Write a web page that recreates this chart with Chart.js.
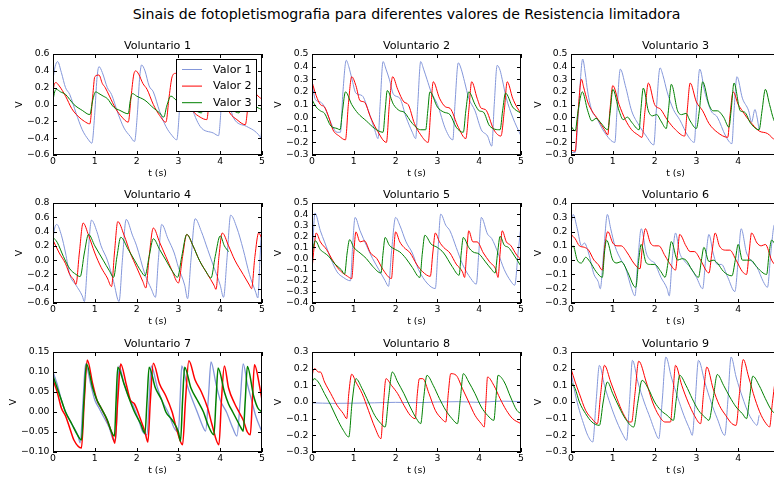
<!DOCTYPE html>
<html>
<head>
<meta charset="utf-8">
<script src="https://cdn.jsdelivr.net/npm/chart.js@4.4.0/dist/chart.umd.min.js"></script>
<style>
  html, body { margin: 0; padding: 0; background: #fff; overflow: hidden; width: 774px; height: 479px; }
  #suptitle { position: absolute; left: 0; top: 6px; width: 813px; text-align: center;
              font: 14.1px "DejaVu Sans"; white-space: nowrap; color: #000; }
  .box { position: absolute; }
</style>
</head>
<body>
<div id="suptitle">Sinais de fotopletismografia para diferentes valores de Resistencia limitadora</div>
<script>
// [t (s), V] pares
const vol1_valor1 = [[0,0.3],[0.05,0.45],[0.11,0.51],[0.2,0.38],[0.3,0.2],[0.4,0.12],[0.55,-0.1],[0.7,-0.3],[0.85,-0.42],[0.93,-0.46],[1.0,-0.1],[1.05,0.3],[1.1,0.45],[1.18,0.38],[1.3,0.2],[1.4,0.12],[1.55,-0.1],[1.7,-0.28],[1.85,-0.38],[1.95,-0.44],[2.02,-0.1],[2.07,0.3],[2.12,0.47],[2.2,0.4],[2.3,0.22],[2.4,0.15],[2.55,-0.08],[2.7,-0.26],[2.85,-0.37],[2.96,-0.42],[3.02,-0.1],[3.06,0.3],[3.1,0.45],[3.2,0.2],[3.3,0.0],[3.52,-0.26],[3.84,-0.34],[3.96,-0.37],[4.02,-0.05],[4.06,0.3],[4.1,0.45],[4.2,0.1],[4.31,-0.15],[4.63,-0.26],[4.95,-0.38],[4.97,-0.4],[5.0,-0.25]];
const vol1_valor2 = [[0,0.15],[0.03,0.24],[0.07,0.26],[0.15,0.22],[0.3,0.1],[0.45,-0.05],[0.6,-0.14],[0.75,-0.2],[0.88,-0.23],[0.95,0.1],[1.0,0.33],[1.1,0.35],[1.18,0.25],[1.25,0.2],[1.35,0.1],[1.5,-0.05],[1.65,-0.15],[1.8,-0.21],[1.87,0.1],[1.93,0.35],[1.98,0.4],[2.05,0.36],[2.15,0.25],[2.25,0.18],[2.4,0.0],[2.55,-0.13],[2.7,-0.21],[2.78,0.1],[2.85,0.33],[2.93,0.37],[3.05,0.25],[3.2,0.05],[3.35,-0.08],[3.52,-0.15],[3.68,-0.18],[3.75,0.15],[3.82,0.36],[3.95,0.25],[4.1,0.05],[4.23,-0.1],[4.4,-0.18],[4.6,-0.24],[4.68,0.05],[4.75,0.22],[4.87,0.12],[5.0,0.06]];
const vol1_valor3 = [[0,0.05],[0.04,0.15],[0.08,0.18],[0.18,0.15],[0.3,0.12],[0.4,0.06],[0.5,0.0],[0.7,-0.07],[0.88,-0.12],[0.95,0.05],[1.02,0.15],[1.1,0.13],[1.2,0.1],[1.3,0.07],[1.45,-0.03],[1.6,-0.07],[1.8,-0.11],[1.85,0.05],[1.9,0.13],[2.0,0.1],[2.2,0.05],[2.4,-0.04],[2.55,-0.1],[2.65,-0.15],[2.72,-0.02],[2.82,0.1],[2.95,0.05],[3.2,-0.02],[3.4,-0.07],[3.55,-0.1],[3.62,0.02],[3.7,0.12],[3.85,0.06],[4.1,-0.02],[4.3,-0.07],[4.45,-0.1],[4.52,0.02],[4.6,0.1],[4.75,0.03],[4.87,-0.03],[5.0,-0.06]];

const vol2_valor1 = [[0,0.27],[0.08,0.14],[0.2,0.12],[0.3,0.08],[0.4,0.0],[0.5,-0.08],[0.6,-0.12],[0.68,-0.12],[0.74,0.2],[0.82,0.45],[0.88,0.4],[0.95,0.31],[1.05,0.19],[1.2,0.17],[1.35,0.05],[1.5,-0.1],[1.58,-0.17],[1.63,0.1],[1.7,0.44],[1.77,0.38],[1.85,0.3],[1.95,0.18],[2.1,0.15],[2.25,0.0],[2.4,-0.12],[2.48,-0.17],[2.53,0.1],[2.6,0.44],[2.67,0.38],[2.75,0.3],[2.85,0.2],[3.0,0.1],[3.2,-0.1],[3.37,-0.18],[3.42,0.1],[3.5,0.43],[3.57,0.38],[3.65,0.28],[3.75,0.15],[3.9,0.05],[4.05,-0.1],[4.2,-0.15],[4.3,-0.23],[4.36,0.1],[4.43,0.41],[4.5,0.37],[4.55,0.3],[4.65,0.15],[4.8,0.0],[5.0,-0.15]];
const vol2_valor2 = [[0,0.28],[0.1,0.17],[0.2,0.1],[0.3,0.08],[0.4,0.0],[0.5,-0.1],[0.65,-0.15],[0.8,-0.18],[0.87,0.1],[0.95,0.32],[1.05,0.25],[1.15,0.13],[1.25,0.12],[1.4,0.0],[1.55,-0.1],[1.78,-0.2],[1.85,0.1],[1.93,0.32],[2.05,0.22],[2.2,0.12],[2.3,0.1],[2.45,-0.05],[2.6,-0.14],[2.78,-0.2],[2.84,0.05],[2.9,0.28],[3.05,0.15],[3.2,0.08],[3.3,0.07],[3.5,-0.08],[3.68,-0.17],[3.75,0.05],[3.82,0.28],[3.95,0.15],[4.05,0.07],[4.15,0.06],[4.35,-0.1],[4.52,-0.15],[4.6,0.05],[4.67,0.28],[4.8,0.15],[4.9,0.08],[5.0,0.03]];
const vol2_valor3 = [[0,0.14],[0.1,0.08],[0.2,0.05],[0.3,0.03],[0.45,-0.07],[0.6,-0.09],[0.67,-0.1],[0.73,0.05],[0.8,0.2],[0.95,0.1],[1.1,0.03],[1.3,-0.03],[1.5,-0.09],[1.7,-0.12],[1.75,0.05],[1.8,0.21],[1.95,0.1],[2.1,0.05],[2.2,0.04],[2.4,-0.05],[2.6,-0.1],[2.72,-0.1],[2.77,0.05],[2.82,0.2],[3.0,0.08],[3.15,0.04],[3.3,0.02],[3.45,-0.08],[3.62,-0.12],[3.68,0.05],[3.75,0.2],[3.9,0.1],[4.0,0.05],[4.1,0.04],[4.25,-0.07],[4.5,-0.1],[4.56,0.05],[4.63,0.19],[4.8,0.08],[5.0,0.03]];

const vol3_valor1 = [[0,-0.28],[0.1,-0.28],[0.17,0.0],[0.28,0.46],[0.34,0.35],[0.4,0.2],[0.5,0.05],[0.6,0.0],[0.8,-0.12],[1.05,-0.2],[1.1,0.05],[1.18,0.38],[1.3,0.25],[1.45,0.05],[1.6,-0.05],[1.8,-0.15],[1.98,-0.22],[2.04,0.05],[2.13,0.39],[2.2,0.33],[2.3,0.2],[2.45,0.06],[2.6,-0.02],[2.8,-0.15],[2.95,-0.2],[3.0,0.05],[3.08,0.38],[3.2,0.2],[3.35,0.05],[3.5,0.0],[3.7,-0.15],[3.85,-0.21],[3.9,0.05],[3.97,0.32],[4.1,0.15],[4.25,0.05],[4.32,-0.04],[4.4,0.06],[4.45,0.0],[4.5,-0.1]];
const vol3_valor2 = [[0,-0.26],[0.1,-0.27],[0.16,0.0],[0.25,0.3],[0.3,0.24],[0.4,0.12],[0.5,0.05],[0.65,-0.02],[0.8,-0.1],[0.88,-0.14],[0.93,0.05],[1.0,0.25],[1.15,0.1],[1.3,-0.02],[1.45,-0.1],[1.6,-0.14],[1.7,-0.16],[1.77,0.05],[1.85,0.27],[2.0,0.1],[2.15,0.06],[2.3,-0.02],[2.5,-0.1],[2.72,-0.15],[2.78,0.05],[2.85,0.27],[3.0,0.12],[3.15,0.05],[3.3,-0.05],[3.5,-0.12],[3.75,-0.16],[3.8,0.0],[3.88,0.2],[4.0,0.1],[4.1,0.05],[4.2,0.0],[4.35,-0.06],[4.5,-0.11],[4.7,-0.13],[4.9,-0.19],[5.0,-0.21]];
const vol3_valor3 = [[0,-0.07],[0.1,-0.11],[0.17,0.05],[0.27,0.2],[0.4,0.05],[0.5,-0.03],[0.6,-0.01],[0.7,-0.04],[0.88,-0.1],[0.94,0.05],[1.0,0.22],[1.15,0.05],[1.25,-0.02],[1.35,0.0],[1.45,-0.04],[1.63,-0.1],[1.67,0.05],[1.73,0.23],[1.85,0.05],[1.95,0.01],[2.05,0.02],[2.15,-0.03],[2.28,-0.09],[2.33,0.05],[2.4,0.26],[2.55,0.05],[2.65,0.02],[2.75,0.03],[2.85,-0.03],[3.0,-0.09],[3.07,0.05],[3.15,0.28],[3.3,0.1],[3.4,0.05],[3.5,0.05],[3.65,0.0],[3.78,-0.08],[3.83,0.05],[3.9,0.27],[4.05,0.05],[4.15,0.04],[4.3,-0.05],[4.5,-0.1],[4.57,0.05],[4.65,0.22],[4.75,0.1],[4.85,-0.02],[5.0,-0.1]];

const vol4_valor1 = [[0,0.3],[0.04,0.45],[0.09,0.5],[0.2,0.35],[0.3,0.1],[0.4,-0.2],[0.55,-0.35],[0.7,-0.5],[0.75,-0.58],[0.83,0.0],[0.92,0.56],[1.05,0.4],[1.15,0.2],[1.3,0.0],[1.45,-0.3],[1.58,-0.58],[1.66,0.0],[1.75,0.57],[1.9,0.35],[2.0,0.2],[2.2,-0.2],[2.35,-0.4],[2.45,-0.52],[2.52,0.0],[2.6,0.5],[2.75,0.3],[2.9,0.1],[3.0,-0.1],[3.15,-0.35],[3.22,-0.54],[3.3,0.0],[3.4,0.58],[3.55,0.4],[3.7,0.15],[3.85,-0.1],[4.0,-0.35],[4.08,-0.52],[4.16,0.0],[4.25,0.63],[4.4,0.45],[4.55,0.15],[4.7,-0.2],[4.85,-0.45],[4.9,-0.53],[4.95,0.0],[5.0,0.58]];
const vol4_valor2 = [[0,0.28],[0.15,0.1],[0.3,-0.05],[0.4,-0.2],[0.5,-0.28],[0.55,-0.34],[0.63,0.1],[0.72,0.52],[0.85,0.35],[1.0,0.1],[1.15,-0.1],[1.3,-0.25],[1.4,-0.37],[1.47,0.1],[1.55,0.54],[1.7,0.35],[1.85,0.1],[2.0,-0.1],[2.15,-0.3],[2.22,-0.39],[2.3,0.05],[2.4,0.45],[2.55,0.25],[2.7,0.05],[2.85,-0.15],[3.0,-0.32],[3.1,0.05],[3.2,0.36],[3.35,0.2],[3.5,0.0],[3.7,-0.2],[3.85,-0.35],[3.9,-0.41],[3.97,0.05],[4.05,0.38],[4.2,0.2],[4.35,0.0],[4.55,-0.2],[4.7,-0.35],[4.75,-0.4],[4.83,0.05],[4.92,0.38],[5.0,0.3]];
const vol4_valor3 = [[0,0.32],[0.1,0.25],[0.25,0.05],[0.4,-0.12],[0.55,-0.2],[0.65,-0.23],[0.75,0.1],[0.85,0.36],[1.0,0.2],[1.2,0.0],[1.35,-0.15],[1.45,-0.24],[1.53,0.05],[1.62,0.32],[1.8,0.15],[1.95,0.0],[2.1,-0.15],[2.2,-0.22],[2.3,0.05],[2.4,0.3],[2.55,0.15],[2.7,0.0],[2.85,-0.15],[2.98,-0.24],[3.08,0.05],[3.2,0.36],[3.35,0.2],[3.5,0.0],[3.65,-0.15],[3.78,-0.25],[3.88,0.05],[4.0,0.34],[4.1,0.2],[4.2,0.12]];

const vol5_valor1 = [[0,-0.1],[0.03,0.2],[0.07,0.41],[0.2,0.25],[0.3,0.15],[0.45,0.0],[0.6,-0.12],[0.75,-0.17],[0.92,-0.2],[0.97,0.1],[1.03,0.37],[1.15,0.25],[1.3,0.12],[1.45,0.0],[1.6,-0.1],[1.75,-0.2],[1.83,-0.25],[1.9,0.05],[2.0,0.37],[2.1,0.3],[2.25,0.15],[2.4,0.05],[2.55,-0.1],[2.75,-0.22],[2.95,-0.27],[3.01,0.05],[3.08,0.4],[3.2,0.3],[3.3,0.25],[3.45,0.1],[3.6,-0.05],[3.8,-0.18],[3.93,-0.23],[3.99,0.05],[4.05,0.37],[4.2,0.22],[4.3,0.18],[4.45,0.05],[4.6,-0.1],[4.75,-0.2],[4.85,-0.24],[4.93,0.05],[5.0,0.3]];
const vol5_valor2 = [[0,-0.1],[0.05,0.1],[0.1,0.23],[0.2,0.15],[0.35,0.08],[0.5,-0.02],[0.65,-0.1],[0.85,-0.16],[0.95,-0.18],[1.0,0.05],[1.05,0.24],[1.15,0.15],[1.25,0.16],[1.4,0.05],[1.55,0.0],[1.7,-0.1],[1.9,-0.18],[1.95,0.05],[2.0,0.24],[2.1,0.15],[2.2,0.1],[2.35,0.05],[2.5,-0.05],[2.65,-0.12],[2.83,-0.16],[2.89,0.05],[2.95,0.23],[3.05,0.15],[3.15,0.1],[3.3,0.05],[3.45,-0.05],[3.6,-0.12],[3.65,-0.17],[3.7,0.05],[3.75,0.25],[3.85,0.15],[3.95,0.15],[4.1,0.05],[4.25,-0.03],[4.4,-0.1],[4.45,-0.17],[4.5,0.05],[4.55,0.25],[4.65,0.15],[4.75,0.12],[4.9,0.03],[5.0,-0.01]];
const vol5_valor3 = [[0,0.05],[0.04,0.12],[0.08,0.16],[0.2,0.08],[0.3,0.05],[0.4,0.02],[0.55,-0.05],[0.7,-0.1],[0.78,-0.14],[0.84,0.05],[0.9,0.17],[1.0,0.1],[1.15,0.05],[1.3,0.0],[1.45,-0.07],[1.65,-0.13],[1.7,0.05],[1.75,0.19],[1.85,0.12],[2.0,0.08],[2.1,0.06],[2.25,0.0],[2.4,-0.08],[2.58,-0.17],[2.64,0.05],[2.7,0.21],[2.85,0.13],[3.0,0.1],[3.15,0.05],[3.35,-0.07],[3.52,-0.15],[3.57,0.05],[3.62,0.19],[3.75,0.1],[3.85,0.06],[4.0,0.04],[4.15,-0.03],[4.3,-0.1],[4.38,-0.13],[4.44,0.05],[4.5,0.2],[4.6,0.12],[4.7,0.1],[4.8,0.05],[5.0,-0.07]];

const vol6_valor1 = [[0,0.25],[0.05,0.32],[0.15,0.22],[0.25,0.1],[0.32,0.12],[0.42,0.05],[0.55,-0.1],[0.65,-0.15],[0.7,-0.2],[0.78,0.05],[0.87,0.32],[0.95,0.22],[1.05,0.1],[1.2,0.0],[1.3,-0.05],[1.45,-0.2],[1.53,-0.25],[1.6,0.0],[1.68,0.22],[1.8,0.05],[1.9,0.0],[2.0,-0.02],[2.15,-0.12],[2.3,-0.2],[2.35,-0.25],[2.42,0.0],[2.5,0.19],[2.6,0.05],[2.7,0.0],[2.85,-0.05],[3.0,-0.12],[3.15,-0.2],[3.22,0.0],[3.3,0.18],[3.4,0.05],[3.5,-0.03],[3.6,-0.03],[3.75,-0.12],[3.92,-0.22],[4.0,0.0],[4.07,0.22],[4.2,0.05],[4.3,0.0],[4.45,-0.05],[4.6,-0.15],[4.7,-0.19],[4.78,0.05],[4.87,0.25],[5.0,0.1]];
const vol6_valor2 = [[0,0.18],[0.1,0.15],[0.2,0.1],[0.32,0.09],[0.42,0.07],[0.55,0.0],[0.65,-0.03],[0.75,-0.07],[0.81,0.1],[0.88,0.2],[1.0,0.12],[1.1,0.1],[1.2,0.1],[1.35,0.05],[1.5,-0.02],[1.65,-0.06],[1.71,0.1],[1.78,0.22],[1.9,0.12],[2.0,0.1],[2.1,0.1],[2.25,0.03],[2.4,-0.04],[2.5,-0.07],[2.55,0.05],[2.6,0.18],[2.75,0.1],[2.85,0.06],[2.95,0.06],[3.1,0.0],[3.25,-0.08],[3.3,-0.09],[3.37,0.05],[3.45,0.19],[3.55,0.1],[3.7,0.07],[3.8,0.07],[3.95,0.0],[4.1,-0.08],[4.2,-0.1],[4.26,0.05],[4.32,0.19],[4.45,0.12],[4.55,0.1],[4.65,0.11],[4.8,0.0],[4.9,-0.04],[5.0,-0.07]];
const vol6_valor3 = [[0,0.08],[0.05,0.1],[0.15,0.0],[0.25,-0.02],[0.35,0.02],[0.45,-0.01],[0.6,-0.08],[0.75,-0.12],[0.8,0.05],[0.85,0.14],[1.0,0.0],[1.1,-0.02],[1.2,-0.01],[1.35,-0.08],[1.5,-0.18],[1.55,-0.19],[1.62,0.0],[1.68,0.11],[1.8,-0.02],[1.9,-0.03],[2.0,-0.03],[2.15,-0.08],[2.25,-0.12],[2.33,0.0],[2.4,0.13],[2.55,0.0],[2.65,0.01],[2.75,0.0],[2.9,-0.07],[3.05,-0.12],[3.12,0.0],[3.18,0.09],[3.3,-0.01],[3.4,0.0],[3.5,-0.02],[3.65,-0.08],[3.85,-0.11],[3.93,0.0],[4.0,0.11],[4.1,0.0],[4.2,0.0],[4.3,0.0],[4.45,-0.05],[4.68,-0.1],[4.74,0.05],[4.8,0.14],[4.9,0.1],[5.0,0.05]];

const vol7_valor1 = [[0,0.1],[0.1,0.07],[0.2,0.03],[0.3,0.0],[0.45,-0.03],[0.6,-0.06],[0.65,-0.077],[0.72,0.03],[0.78,0.12],[0.9,0.07],[1.0,0.03],[1.1,0.01],[1.2,-0.01],[1.35,-0.04],[1.45,-0.07],[1.5,-0.07],[1.54,0.03],[1.58,0.115],[1.7,0.07],[1.8,0.04],[1.9,0.02],[2.05,-0.02],[2.15,-0.05],[2.25,-0.057],[2.3,0.03],[2.35,0.115],[2.5,0.06],[2.6,0.03],[2.75,0.0],[2.9,-0.04],[3.0,-0.05],[3.04,0.03],[3.08,0.115],[3.2,0.07],[3.3,0.04],[3.45,0.0],[3.6,-0.04],[3.65,-0.048],[3.72,0.04],[3.78,0.125],[3.9,0.07],[4.0,0.03],[4.15,0.0],[4.3,-0.04],[4.4,-0.06],[4.48,0.03],[4.55,0.12],[4.65,0.07],[4.75,0.03],[4.85,-0.01],[5.0,-0.05]];
const vol7_valor2 = [[0,0.08],[0.1,0.05],[0.2,0.01],[0.3,-0.01],[0.4,-0.04],[0.5,-0.07],[0.68,-0.09],[0.75,0.03],[0.82,0.13],[0.95,0.07],[1.05,0.03],[1.15,0.01],[1.25,-0.01],[1.4,-0.05],[1.48,-0.078],[1.55,0.03],[1.62,0.12],[1.75,0.07],[1.85,0.03],[1.95,0.02],[2.1,-0.02],[2.2,-0.05],[2.27,-0.075],[2.33,0.03],[2.4,0.122],[2.55,0.07],[2.7,0.04],[2.85,0.0],[2.95,-0.04],[3.1,-0.082],[3.17,0.03],[3.25,0.128],[3.4,0.08],[3.55,0.05],[3.7,0.01],[3.8,-0.03],[3.97,-0.082],[4.03,0.03],[4.1,0.115],[4.2,0.06],[4.35,0.02],[4.45,0.0],[4.55,-0.02],[4.65,-0.05],[4.72,-0.057],[4.77,0.03],[4.82,0.118],[4.95,0.06],[5.0,0.03]];
const vol7_valor3 = [[0,0.09],[0.1,0.06],[0.2,0.03],[0.3,0.0],[0.45,-0.03],[0.6,-0.06],[0.68,-0.07],[0.74,0.03],[0.8,0.12],[0.95,0.06],[1.05,0.03],[1.15,0.01],[1.3,-0.02],[1.4,-0.05],[1.47,-0.06],[1.51,0.03],[1.55,0.112],[1.7,0.07],[1.8,0.04],[1.95,0.0],[2.1,-0.03],[2.2,-0.053],[2.25,0.03],[2.3,0.112],[2.45,0.06],[2.6,0.03],[2.7,0.0],[2.85,-0.02],[3.0,-0.05],[3.05,-0.073],[3.1,0.03],[3.15,0.112],[3.3,0.06],[3.45,0.03],[3.6,0.0],[3.7,-0.03],[3.85,-0.057],[3.9,0.03],[3.95,0.11],[4.1,0.05],[4.2,0.02],[4.3,0.0],[4.4,-0.02],[4.5,-0.04],[4.55,-0.048],[4.6,0.03],[4.65,0.114],[4.8,0.04],[4.9,0.01],[5.0,0.0]];

const vol8_valor1 = [[0,-0.005],[0.5,-0.008],[1.0,-0.007],[1.5,-0.005],[2.0,-0.002],[2.5,-0.004],[3.0,0.0],[3.5,0.002],[4.0,-0.002],[4.5,0.005],[5.0,0.003]];
const vol8_valor2 = [[0,0.15],[0.03,0.19],[0.07,0.2],[0.15,0.18],[0.2,0.18],[0.3,0.12],[0.45,0.05],[0.6,-0.02],[0.75,-0.07],[0.83,-0.1],[0.88,0.05],[0.95,0.167],[1.05,0.12],[1.2,0.05],[1.35,-0.05],[1.5,-0.15],[1.65,-0.22],[1.7,-0.05],[1.77,0.14],[1.9,0.1],[2.05,0.05],[2.2,-0.02],[2.35,-0.08],[2.47,-0.1],[2.52,0.05],[2.57,0.14],[2.65,0.14],[2.8,0.05],[2.95,-0.05],[3.1,-0.1],[3.2,-0.12],[3.26,0.05],[3.32,0.17],[3.45,0.16],[3.6,0.08],[3.75,0.0],[3.9,-0.08],[4.05,-0.13],[4.12,-0.15],[4.16,0.0],[4.2,0.15],[4.35,0.1],[4.5,0.02],[4.65,-0.05],[4.8,-0.1],[5.0,-0.13]];
const vol8_valor3 = [[0,0.12],[0.05,0.14],[0.15,0.12],[0.3,0.05],[0.45,-0.02],[0.6,-0.1],[0.75,-0.17],[0.88,-0.21],[0.96,0.0],[1.05,0.14],[1.2,0.08],[1.35,0.0],[1.5,-0.08],[1.65,-0.13],[1.75,-0.15],[1.83,0.02],[1.92,0.18],[2.05,0.12],[2.2,0.05],[2.35,-0.03],[2.5,-0.1],[2.6,-0.13],[2.67,0.02],[2.75,0.16],[2.9,0.1],[3.05,0.02],[3.2,-0.05],[3.35,-0.1],[3.48,-0.13],[3.55,0.02],[3.62,0.17],[3.75,0.12],[3.9,0.05],[4.05,-0.03],[4.2,-0.08],[4.35,-0.11],[4.4,0.02],[4.45,0.16],[4.6,0.12],[4.75,0.03],[4.9,-0.05],[5.0,-0.07]];

const vol9_valor1 = [[0,0.18],[0.1,0.05],[0.2,-0.05],[0.3,-0.13],[0.4,-0.2],[0.52,-0.24],[0.6,0.0],[0.68,0.22],[0.8,0.1],[0.95,-0.02],[1.1,-0.12],[1.25,-0.2],[1.33,-0.23],[1.4,0.0],[1.47,0.25],[1.6,0.12],[1.75,0.0],[1.9,-0.1],[2.0,-0.17],[2.1,-0.22],[2.18,0.0],[2.27,0.27],[2.4,0.15],[2.55,0.03],[2.7,-0.08],[2.85,-0.17],[2.9,-0.2],[2.97,0.0],[3.05,0.25],[3.2,0.12],[3.35,0.0],[3.5,-0.1],[3.68,-0.2],[3.75,0.0],[3.83,0.27],[3.95,0.15],[4.1,0.03],[4.25,-0.07],[4.4,-0.13],[4.45,-0.14],[4.5,-0.08]];
const vol9_valor2 = [[0,0.2],[0.1,0.12],[0.2,0.05],[0.35,-0.05],[0.5,-0.1],[0.63,-0.13],[0.71,0.05],[0.8,0.22],[0.95,0.12],[1.1,0.02],[1.25,-0.07],[1.4,-0.12],[1.45,-0.12],[1.53,0.05],[1.62,0.245],[1.8,0.12],[1.95,0.0],[2.1,-0.08],[2.25,-0.12],[2.38,-0.12],[2.44,0.05],[2.5,0.22],[2.65,0.1],[2.8,0.0],[2.95,-0.08],[3.1,-0.13],[3.17,0.05],[3.25,0.21],[3.4,0.08],[3.55,-0.02],[3.7,-0.08],[3.85,-0.13],[3.95,-0.14],[4.03,0.05],[4.12,0.255],[4.25,0.15],[4.4,0.02],[4.55,-0.08],[4.7,-0.14],[4.75,-0.15],[4.82,0.0],[4.9,0.15],[5.0,0.2]];
const vol9_valor3 = [[0,0.12],[0.1,0.08],[0.2,0.0],[0.35,-0.07],[0.5,-0.12],[0.68,-0.14],[0.77,0.0],[0.87,0.12],[1.0,0.05],[1.15,-0.03],[1.3,-0.1],[1.5,-0.15],[1.6,0.0],[1.7,0.13],[1.85,0.08],[2.0,0.0],[2.15,-0.05],[2.3,-0.08],[2.45,-0.11],[2.52,0.02],[2.6,0.16],[2.75,0.1],[2.9,0.02],[3.05,-0.05],[3.2,-0.09],[3.3,-0.11],[3.4,0.02],[3.5,0.165],[3.65,0.1],[3.8,0.03],[3.95,-0.03],[4.1,-0.07],[4.2,-0.1],[4.27,0.02],[4.35,0.155],[4.5,0.1],[4.65,0.02],[4.8,-0.05],[5.0,-0.09]];

const seriesNames = ['Valor 1', 'Valor 2', 'Valor 3'];
const titles = ['Voluntario 1','Voluntario 2','Voluntario 3','Voluntario 4','Voluntario 5','Voluntario 6','Voluntario 7','Voluntario 8','Voluntario 9'];
const yMin  = [-0.6, -0.3, -0.3, -0.6, -0.4, -0.3, -0.10, -0.3, -0.3];
const yMax  = [ 0.6,  0.5,  0.5,  0.8,  0.5,  0.4,  0.15,  0.3,  0.3];
const yStep = [ 0.2,  0.1,  0.1,  0.2,  0.1,  0.1,  0.05,  0.1,  0.1];
const yDecimals = [1, 1, 1, 1, 1, 1, 2, 1, 1];
const xTicks = [0, 1, 2, 3, 4, 5];

const panels = [
  [vol1_valor1, vol1_valor2, vol1_valor3],
  [vol2_valor1, vol2_valor2, vol2_valor3],
  [vol3_valor1, vol3_valor2, vol3_valor3],
  [vol4_valor1, vol4_valor2, vol4_valor3],
  [vol5_valor1, vol5_valor2, vol5_valor3],
  [vol6_valor1, vol6_valor2, vol6_valor3],
  [vol7_valor1, vol7_valor2, vol7_valor3],
  [vol8_valor1, vol8_valor2, vol8_valor3],
  [vol9_valor1, vol9_valor2, vol9_valor3]
];

// layout (pixels)
const colLeft = [53, 312, 571];
const rowTop = [54, 203, 352];
const plotW = 209, plotH = [101, 100, 100];
const padL = 60, padT = 20, padR = 10, padB = 36;
const vLabelOffset = [33, 33.5, 32.5, 33, 33.5, 32.5, 39.5, 33.5, 32.5];
const colors = ['#8497da', '#ff0000', '#008000'];
const FONT = '"DejaVu Sans"';

const framePlugin = {
  id: 'frame',
  afterDatasetsDraw(chart, args, opts) {
    if (!opts.legend) return;
    const ctx = chart.ctx, a = chart.chartArea;
    const bx = a.left + 123, by = a.top + 5, bw = 81, bh = 53;
    ctx.save();
    ctx.fillStyle = '#fff';
    ctx.fillRect(bx, by, bw, bh);
    ctx.strokeStyle = '#000';
    ctx.lineWidth = 1;
    ctx.strokeRect(bx + 0.5, by + 0.5, bw - 1, bh - 1);
    ctx.font = '11.15px ' + FONT;
    ctx.textBaseline = 'middle';
    ctx.textAlign = 'left';
    seriesNames.forEach((name, i) => {
      const cy = by + 10.5 + i * 16.6;
      ctx.strokeStyle = colors[i];
      ctx.beginPath();
      ctx.moveTo(bx + 6, cy);
      ctx.lineTo(bx + 26, cy);
      ctx.stroke();
      ctx.fillStyle = '#000';
      ctx.fillText(name, bx + 37, cy + 0.5);
    });
    ctx.restore();
  },
  afterDraw(chart, args, opts) {
    const ctx = chart.ctx, a = chart.chartArea;
    const xs = chart.scales.x, ys = chart.scales.y;
    const L = Math.round(a.left), R = Math.round(a.right), T = Math.round(a.top), B = Math.round(a.bottom);
    ctx.save();
    ctx.strokeStyle = '#000';
    ctx.lineWidth = 1;
    ctx.beginPath();
    xs.ticks.forEach(t => {
      const px = Math.round(xs.getPixelForValue(t.value)) + 0.5;
      ctx.moveTo(px, B); ctx.lineTo(px, B - 4);
      ctx.moveTo(px, T); ctx.lineTo(px, T + 4);
    });
    ys.ticks.forEach(t => {
      const py = Math.round(ys.getPixelForValue(t.value)) + 0.5;
      ctx.moveTo(L, py); ctx.lineTo(L + 4, py);
      ctx.moveTo(R, py); ctx.lineTo(R - 4, py);
    });
    ctx.stroke();
    ctx.strokeRect(L + 0.5, T + 0.5, R - L - 1, B - T - 1);

    ctx.fillStyle = '#000';
    ctx.textAlign = 'center';
    ctx.textBaseline = 'alphabetic';
    ctx.font = '11.15px ' + FONT;
    ctx.fillText(opts.title, (a.left + a.right) / 2, a.top - 5);
    ctx.font = '9.3px ' + FONT;
    ctx.fillText('t (s)', (a.left + a.right) / 2, a.bottom + 21);
    ctx.translate(a.left - opts.vOff, (a.top + a.bottom) / 2);
    ctx.rotate(-Math.PI / 2);
    ctx.textBaseline = 'middle';
    ctx.fillText('V', 0, 0);
    ctx.restore();
  }
};

function fmt(dec) {
  return v => {
    if (Math.abs(v) < 1e-9) return (0).toFixed(dec);
    return (v < 0 ? '\u2212' : '') + Math.abs(v).toFixed(dec);
  };
}

panels.forEach((series, i) => {
  const col = i % 3, row = Math.floor(i / 3);
  const box = document.createElement('div');
  box.className = 'box';
  box.style.left = (colLeft[col] - padL) + 'px';
  box.style.top = (rowTop[row] - padT) + 'px';
  box.style.width = (padL + plotW + padR) + 'px';
  box.style.height = (padT + plotH[row] + padB) + 'px';
  const canvas = document.createElement('canvas');
  box.appendChild(canvas);
  document.body.appendChild(box);

  // voluntario 7 tem sinal ruidoso -> traco mais grosso
  const lw = i === 6 ? [1.3, 1.5, 1.5] : [1, 1, 1];
  new Chart(canvas, {
    type: 'line',
    data: {
      datasets: series.map((pts, k) => ({
        label: seriesNames[k],
        data: pts.map(p => ({ x: p[0], y: p[1] })),
        borderColor: colors[k],
        borderWidth: lw[k],
        pointRadius: 0,
        fill: false,
        cubicInterpolationMode: 'monotone',
        order: 3 - k
      }))
    },
    options: {
      responsive: true,
      maintainAspectRatio: false,
      animation: false,
      layout: { padding: { top: padT, right: padR, left: 0, bottom: 0 } },
      plugins: {
        legend: { display: false },
        tooltip: { enabled: false },
        frame: { title: titles[i], vOff: vLabelOffset[i], legend: i === 0 }
      },
      scales: {
        x: {
          type: 'linear', min: 0, max: 5,
          afterBuildTicks: s => { s.ticks = xTicks.map(v => ({ value: v })); },
          ticks: { padding: 1.5, color: '#000', maxRotation: 0, autoSkip: false,
                   font: { family: 'DejaVu Sans', size: 9.3 }, callback: v => String(v) },
          grid: { display: false, drawTicks: false },
          border: { display: false },
          afterFit: s => { s.height = padB; }
        },
        y: {
          type: 'linear', min: yMin[i], max: yMax[i],
          ticks: { stepSize: yStep[i], padding: 3.5, color: '#000', autoSkip: false,
                   font: { family: 'DejaVu Sans', size: 9.3 }, callback: fmt(yDecimals[i]) },
          grid: { display: false, drawTicks: false },
          border: { display: false },
          afterFit: s => { s.width = padL; }
        }
      }
    },
    plugins: [framePlugin]
  });
});
</script>
</body>
</html>
